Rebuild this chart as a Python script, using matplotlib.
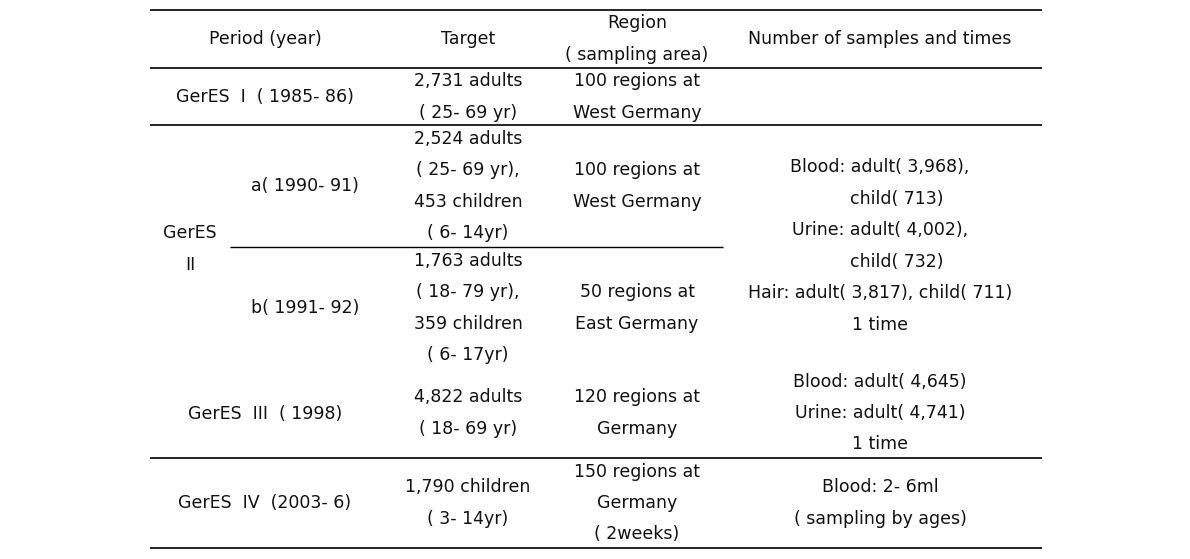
import matplotlib.pyplot as plt

# table content
header = ["Period (year)", "Target", "Region\n( sampling area)", "Number of samples and times"]
periods = ["GerES  I  ( 1985- 86)", "GerES\nII", "a( 1990- 91)", "b( 1991- 92)",
           "GerES  III  ( 1998)", "GerES  IV  (2003- 6)"]
targets = ["2,731 adults\n( 25- 69 yr)",
           "2,524 adults\n( 25- 69 yr),\n453 children\n( 6- 14yr)",
           "1,763 adults\n( 18- 79 yr),\n359 children\n( 6- 17yr)",
           "4,822 adults\n( 18- 69 yr)",
           "1,790 children\n( 3- 14yr)"]
regions = ["100 regions at\nWest Germany",
           "100 regions at\nWest Germany",
           "50 regions at\nEast Germany",
           "120 regions at\nGermany",
           "150 regions at\nGermany\n( 2weeks)"]
samples = ["",
           "Blood: adult( 3,968),\n      child( 713)\nUrine: adult( 4,002),\n      child( 732)\nHair: adult( 3,817), child( 711)\n1 time",
           "Blood: adult( 4,645)\nUrine: adult( 4,741)\n1 time",
           "Blood: 2- 6ml\n( sampling by ages)"]

plt.rcParams['font.family'] = ['DejaVu Sans']
fs = 12.5
ls = 1.96

fig = plt.figure(figsize=(11.9, 5.59), dpi=100)
ax = fig.add_axes([0, 0, 1, 1])
ax.set_xlim(0, 1190)
ax.set_ylim(559, 0)
ax.axis('off')

# column centres
cx = [265, 468, 637, 880]

def put(x, y, s):
    ax.text(x, y, s, ha='center', va='center', fontsize=fs, linespacing=ls, color='#111111')

# header
for x, s in zip(cx, header):
    put(x, 39, s)

# period column
put(cx[0], 97, periods[0])
put(190, 249, periods[1])
put(305, 186, periods[2])
put(305, 308, periods[3])
put(cx[0], 414, periods[4])
put(cx[0], 503, periods[5])

# target column
for y, s in zip([97, 186, 308, 413, 503], targets):
    put(cx[1], y, s)

# region column
for y, s in zip([97, 186, 308, 413, 503], regions):
    put(cx[2], y, s)

# samples column
for y, s in zip([97, 246, 413, 503], samples):
    put(cx[3], y, s)

# rules
ax.hlines([10, 68, 125, 458, 548], 150, 1042, color='black', lw=1.2)
ax.hlines(247, 230, 723, color='black', lw=1.0)

fig.savefig('out.png', dpi=100)
